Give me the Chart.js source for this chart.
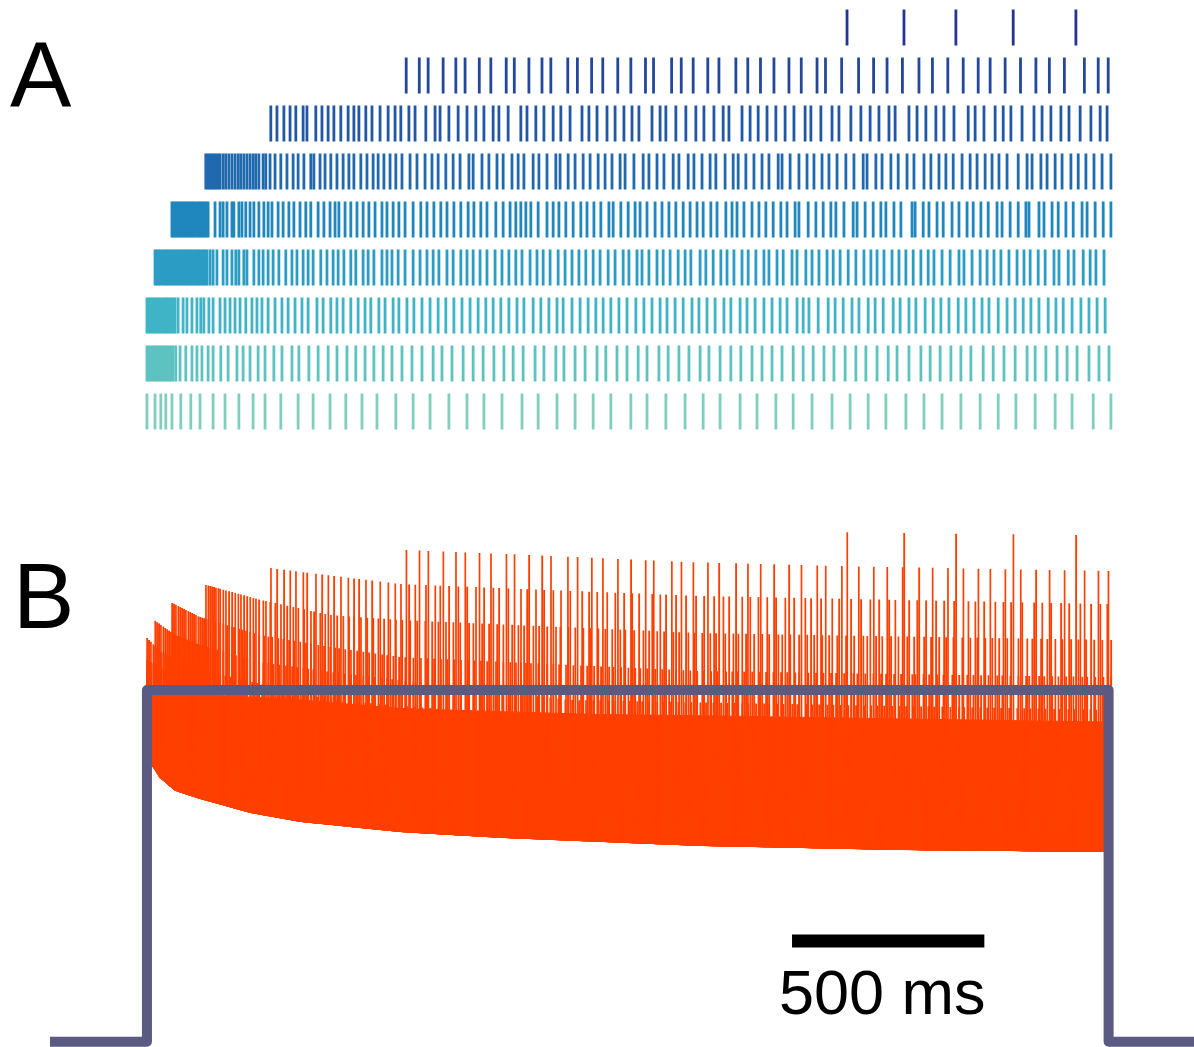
<!DOCTYPE html>
<html><head><meta charset="utf-8">
<script src="https://cdn.jsdelivr.net/npm/chart.js@4.4.1/dist/chart.umd.min.js"></script>
<style>
html,body{margin:0;padding:0;background:#fff;}
#wrap{position:relative;width:1194px;height:1047px;overflow:hidden;}
#c{position:absolute;left:0;top:0;}
.lbl{position:absolute;font-family:"Liberation Sans",Arial,sans-serif;color:#000;white-space:nowrap;}
</style></head><body>
<div id="wrap">
<canvas id="c" width="1194" height="1047"></canvas>
<div class="lbl" style="left:10px;top:29px;font-size:92px;line-height:92px">A</div>
<div class="lbl" style="left:13px;top:550px;font-size:92px;line-height:92px">B</div>
<div class="lbl" style="left:779px;top:961px;font-size:63px;line-height:63px">500 ms</div>
</div>
<script>
// ---- Spike times (ms from stimulus onset), one array per raster row (top to bottom) ----
const row1 = [1820,1968,2103,2252,2415];
const row2 = [674,708,731,770,803,827,864,894,934,955,993,1027,1050,1094,1119,1156,1185,1224,1258,1296,1317,1364,1389,1420,1458,1487,1531,1562,1595,1630,1669,1701,1742,1764,1806,1850,1889,1924,1964,2007,2042,2082,2122,2161,2192,2231,2271,2311,2346,2385,2437,2473,2499];
const row3 = [322,338,356,372,387,406,416,439,455,471,486,504,523,538,551,569,585,606,627,645,660,681,697,725,749,762,785,809,832,855,876,900,915,939,972,988,1011,1032,1056,1076,1100,1131,1149,1170,1196,1217,1240,1261,1279,1313,1334,1349,1375,1401,1427,1448,1474,1498,1513,1547,1568,1589,1612,1635,1659,1682,1711,1726,1752,1781,1799,1830,1856,1880,1903,1929,1945,1981,2002,2025,2051,2072,2098,2135,2153,2176,2205,2226,2246,2275,2306,2327,2350,2376,2397,2426,2454,2478,2496];
const row4 = [153,159,164,169,174,179,185,190,198,205,213,221,229,237,244,252,260,268,276,283,291,302,309,320,333,348,364,380,393,408,426,434,450,463,478,494,510,525,538,556,572,588,601,616,632,647,663,684,702,723,741,757,777,796,814,837,848,871,889,910,926,949,965,980,1004,1019,1040,1063,1074,1095,1113,1134,1152,1173,1191,1209,1230,1243,1266,1290,1305,1326,1344,1368,1383,1407,1422,1443,1464,1479,1503,1524,1537,1557,1578,1599,1617,1641,1651,1672,1695,1716,1734,1755,1773,1794,1817,1838,1862,1872,1895,1911,1934,1953,1976,1994,2020,2038,2059,2077,2096,2119,2140,2158,2179,2197,2215,2236,2265,2288,2301,2324,2340,2361,2379,2402,2421,2441,2462,2483,2506];
const row5 = [65,70,75,81,86,91,96,101,107,112,117,122,127,133,138,143,148,153,159,177,190,198,208,221,226,239,247,257,268,278,291,304,315,325,341,354,369,382,398,413,426,445,460,476,489,499,515,530,546,562,577,593,611,624,640,655,671,692,712,728,746,764,780,798,816,835,850,868,884,907,926,944,959,972,985,998,1017,1040,1056,1071,1089,1108,1128,1144,1162,1180,1201,1212,1232,1251,1269,1282,1300,1321,1339,1357,1375,1394,1412,1430,1446,1466,1482,1505,1521,1534,1552,1573,1591,1609,1628,1648,1664,1685,1695,1719,1739,1758,1778,1791,1812,1836,1846,1867,1888,1908,1921,1942,1960,1989,1997,2018,2033,2054,2070,2093,2111,2132,2148,2168,2187,2210,2223,2244,2265,2285,2293,2319,2332,2353,2369,2389,2408,2431,2444,2465,2486,2506];
const row6 = [21,26,31,36,42,47,52,57,62,68,73,78,83,88,94,99,104,109,114,120,125,130,135,140,146,151,156,164,172,182,198,208,221,231,239,252,260,278,291,302,315,328,343,361,377,390,406,419,432,452,468,484,497,512,530,543,562,575,590,611,624,637,653,671,692,710,728,744,759,780,796,816,832,848,866,884,905,923,941,959,975,996,1014,1030,1048,1069,1087,1105,1123,1141,1160,1178,1199,1217,1238,1253,1274,1287,1305,1326,1342,1360,1381,1399,1414,1438,1453,1472,1492,1508,1526,1547,1563,1583,1604,1617,1638,1654,1677,1690,1713,1729,1747,1768,1784,1802,1823,1843,1864,1882,1898,1916,1937,1955,1973,1992,2012,2031,2046,2067,2088,2111,2124,2145,2166,2184,2202,2220,2241,2262,2280,2296,2317,2335,2358,2371,2395,2410,2434,2452,2467,2488];
const row7 = [0,5,10,16,21,26,31,36,42,47,52,57,62,68,73,81,94,104,117,130,140,148,161,172,190,203,216,229,242,257,273,286,299,315,333,351,367,385,403,419,442,458,478,494,510,530,549,567,582,603,619,640,655,676,694,715,736,757,777,798,819,840,861,881,900,920,941,962,980,1004,1024,1045,1066,1082,1105,1126,1147,1167,1186,1206,1227,1248,1271,1292,1313,1334,1352,1373,1394,1417,1435,1456,1477,1500,1518,1542,1560,1581,1604,1625,1646,1664,1690,1706,1721,1745,1771,1789,1810,1833,1851,1875,1893,1914,1940,1958,1981,1999,2023,2044,2064,2085,2109,2129,2150,2171,2189,2213,2236,2257,2278,2298,2319,2343,2363,2382,2405,2428,2449,2470,2491];
const row8 = [0,5,10,16,21,26,31,36,42,47,52,57,62,68,75,86,101,117,130,143,159,172,192,211,234,250,268,289,307,330,351,377,395,421,445,471,494,520,543,567,590,614,637,663,689,715,744,767,793,822,848,874,902,928,952,978,1009,1032,1063,1084,1113,1139,1170,1193,1222,1248,1277,1300,1331,1355,1383,1409,1438,1461,1490,1518,1544,1573,1599,1625,1651,1680,1706,1732,1760,1786,1815,1843,1869,1898,1927,1950,1981,2012,2036,2062,2090,2116,2142,2174,2200,2228,2257,2288,2309,2337,2366,2392,2418,2449,2475,2501];
const row9 = [0,21,36,49,65,88,114,138,172,203,239,276,307,348,393,432,476,517,559,598,647,692,736,785,832,876,923,975,1017,1066,1113,1160,1206,1258,1300,1349,1399,1446,1490,1542,1586,1635,1680,1729,1781,1828,1875,1921,1973,2020,2067,2116,2166,2213,2259,2309,2361,2405,2460,2506];

// ---- Panel B: spike peak voltages (mV) read at anchor times (ms) for each row ----
const row1PeakMv = [40.3,40.0,39.7,39.6,39.3];
const row2PeakT = [674,1000,1400,1800,2200,2500];  const row2PeakMv = [34.1,32.4,30.0,28.6,27.6,26.9];
const row3PeakT = [322,398,658,1048,1438,1958,2500]; const row3PeakMv = [27.9,26.6,22.4,20.3,18.3,16.9,15.5];
const row4PeakT = [153,296,476,658,1438,2500];     const row4PeakMv = [22.1,16.9,11.7,10.0,5.5,3.1];
const row5PeakT = [65,138,294,476,658,1438,2500];  const row5PeakMv = [15.9,11.0,4.8,0.7,-2.8,-7.6,-9.7];
const row6PeakT = [21,73,138,294,476,1100,2500];   const row6PeakMv = [9.7,4.8,1.4,-4.5,-7.9,-17.6,-21.0];
const row7PeakT = [0,36,138,476,1438,2500];        const row7PeakMv = [3.8,-1.0,-7.2,-17.6,-27.9,-32.1];
const row8PeakT = [0,138,1438,2500];               const row8PeakMv = [-3.8,-14.1,-38.3,-43.4];
const row9PeakT = [0,138,1438,2500];               const row9PeakMv = [-9.0,-21.0,-48.6,-52.1];

// after-hyperpolarisation troughs (lower edge of trace) and top of the dense trace band
const envT       = [0,34,73,138,268,398,658,918,1178,1438,1958,2500];
const troughMv   = [-37.2,-44.1,-48.6,-51.4,-56.2,-59.3,-62.8,-64.8,-66.2,-67.6,-69.0,-69.7];
const bandTopMv  = [-14.8,-15.2,-15.5,-15.9,-16.6,-17.6,-20.5,-21.6,-22.6,-23.0,-24.1,-25.2];

// stimulus (current step) and scale bar
const stimT  = [-252,0,0,2500,2500,2800];
const stimNa = [0,0,1,1,0,0];
const scaleBarT = [1677,2177];
const scaleBarMv = -100.7;

// ---- build ----
const rows = [row1,row2,row3,row4,row5,row6,row7,row8,row9];
const rowColors = ['#253494','#24479c','#2257a5','#2169ae','#1f87bd','#2b9dc5','#3fb4c7','#5ec2c0','#80cfbd'];
const ORANGE = '#ff3f00';

function lerp(ts, vs, t){
  if (t <= ts[0]) return vs[0];
  for (let i = 1; i < ts.length; i++) {
    if (t <= ts[i]) { const f = (t - ts[i-1]) / (ts[i] - ts[i-1]); return vs[i-1] + f * (vs[i] - vs[i-1]); }
  }
  return vs[vs.length-1];
}

const peakT = [null,row2PeakT,row3PeakT,row4PeakT,row5PeakT,row6PeakT,row7PeakT,row8PeakT,row9PeakT];
const peakMv = [row1PeakMv,row2PeakMv,row3PeakMv,row4PeakMv,row5PeakMv,row6PeakMv,row7PeakMv,row8PeakMv,row9PeakMv];

const datasets = [];

datasets.push({
  label:'stimulus', yAxisID:'yI', order:0, showLine:true, pointRadius:0,
  data: stimT.map((t,i)=>({x:t,y:stimNa[i]})),
  borderColor:'#5a5a82', borderWidth:10, borderJoinStyle:'round', borderCapStyle:'butt', tension:0, fill:false
});
datasets.push({
  label:'scale', yAxisID:'yV', order:0, showLine:true, pointRadius:0,
  data: scaleBarT.map(t=>({x:t,y:scaleBarMv})),
  borderColor:'#000', borderWidth:13, borderCapStyle:'butt', fill:false
});
rows.forEach((r,k)=>{
  datasets.push({
    label:'row'+(k+1), yAxisID:'yR', order:1, showLine:false,
    data: r.map(t=>({x:t,y:k+1})),
    pointStyle:'line', pointRotation:90, pointRadius:18, pointHoverRadius:18,
    pointBorderWidth:2.8, borderWidth:2.8,
    pointBorderColor:rowColors[k], pointBackgroundColor:rowColors[k], borderColor:rowColors[k]
  });
});
rows.forEach((r,k)=>{
  const pts = [];
  r.forEach((t,i)=>{
    const tr = lerp(envT, troughMv, t);
    const pk = k===0 ? peakMv[0][i] : lerp(peakT[k], peakMv[k], t);
    pts.push({x:t, y:tr}, {x:t+0.4, y:pk}, {x:t+0.8, y:tr});
  });
  datasets.push({
    label:'trace'+(k+1), yAxisID:'yV', order:4, showLine:true, pointRadius:0,
    data:pts, borderColor:ORANGE, borderWidth:1.7, tension:0, fill:false
  });
});
datasets.push({
  label:'troughs', yAxisID:'yV', order:6, showLine:true, pointRadius:0,
  data: envT.map((t,i)=>({x:t,y:troughMv[i]})),
  borderColor:ORANGE, borderWidth:1, fill:false
});
datasets.push({
  label:'band', yAxisID:'yV', order:5, showLine:true, pointRadius:0,
  data: envT.map((t,i)=>({x:t,y:bandTopMv[i]})),
  borderColor:ORANGE, borderWidth:1, backgroundColor:ORANGE,
  fill:{target: datasets.length - 1}
});

new Chart(document.getElementById('c'), {
  type:'scatter',
  data:{datasets},
  options:{
    responsive:false, animation:false, devicePixelRatio:1, events:[],
    layout:{padding:0, autoPadding:false},
    plugins:{legend:{display:false}, tooltip:{enabled:false}, title:{display:false}},
    scales:{
      x:{type:'linear', min:-382, max:2722, display:false},
      y:{display:false},
      yR:{type:'linear', reverse:true, min:0.42708, max:22.2396, display:false},
      yV:{type:'linear', min:-137.24, max:223.79, display:false},
      yI:{type:'linear', min:-0.0151, max:2.9619, display:false}
    }
  }
});
</script>
</body></html>
